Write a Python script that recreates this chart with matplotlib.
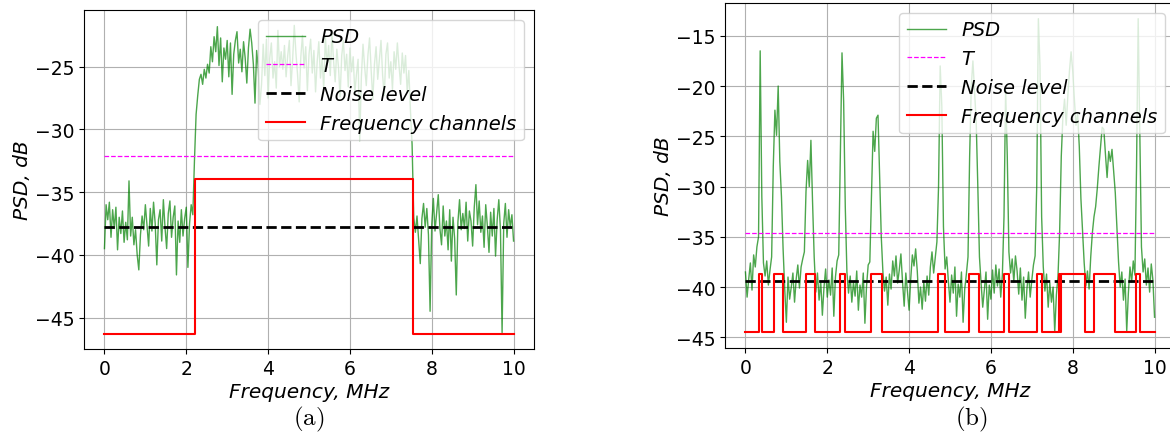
import numpy as np
import matplotlib
matplotlib.use("Agg")
import matplotlib.pyplot as plt

plt.rcParams['mathtext.fontset'] = 'cm'

# ---------------- data: panel (a) ----------------
psd_a = [
    -39.5, -36.0, -37.2, -35.8, -38.6, -36.4, -37.9, -36.2, -39.6, -37.0,
    -38.3, -36.5, -39.0, -37.4, -38.8, -34.1, -38.5, -37.0, -39.2, -38.0,
    -40.0, -41.2, -38.4, -36.9, -38.0, -36.0, -37.6, -39.3, -36.3, -38.1,
    -35.8, -37.5, -40.8, -37.2, -36.4, -38.9, -35.6, -37.8, -39.5, -36.7,
    -35.7, -38.6, -37.0, -36.1, -41.6, -37.3, -39.0, -36.4, -38.5, -37.1,
    -36.2, -41.0, -37.5, -36.0, -36.8,
    -32.5, -28.8, -27.3, -26.0,
    -25.6, -26.4, -25.2, -25.9, -24.8, -25.5, -23.4, -24.6, -22.6, -23.8,
    -21.8, -24.9, -22.7, -26.2, -23.5, -24.4, -22.9, -25.8, -23.1, -27.2,
    -24.0, -22.9, -22.2, -24.7, -23.6, -25.4, -23.0, -24.3, -26.3, -23.5,
    -22.0, -23.1, -24.8, -27.9, -23.7, -25.1, -28.0, -26.4, -23.2, -25.7,
    -22.8, -27.5, -24.3, -23.1, -25.9, -24.6, -26.7, -22.1, -25.0, -23.8,
    -25.2, -23.3, -25.8, -24.1, -22.9, -26.5, -24.4, -21.7, -23.9, -25.6,
    -27.8, -24.2, -22.5, -25.1, -23.4, -26.9, -24.0, -22.8, -25.5, -23.7,
    -27.0, -24.6, -23.0, -25.9, -24.3, -26.8, -22.6, -24.9, -23.3, -25.7,
    -22.3, -24.5, -26.2, -23.6, -25.0, -27.4, -24.1, -22.9, -25.3, -24.0,
    -26.6, -23.5, -25.4, -24.2, -27.1, -25.6, -24.4, -30.9, -25.8, -23.2,
    -25.0, -26.5, -24.1, -22.7, -25.3, -27.6, -24.8, -23.4, -26.0, -24.5,
    -22.9, -25.7, -27.3, -24.0, -23.1, -25.9, -24.6, -26.8, -23.8, -25.2,
    -23.1, -24.9, -26.4, -23.9, -25.5, -24.1, -27.0, -25.3, -28.5,
    -31.2, -37.0,
    -38.2, -36.9, -38.8, -40.7, -37.1, -35.9, -37.8, -36.3, -38.4, -44.5,
    -37.6, -35.5, -38.1, -36.6, -35.2, -37.9, -39.2, -36.1, -38.5, -37.3,
    -39.6, -36.4, -40.5, -37.0, -38.7, -43.2, -37.4, -35.6, -38.0, -36.7,
    -37.9, -35.8, -38.9, -36.5, -37.3, -39.3, -36.2, -34.4, -37.6, -35.7,
    -38.2, -36.9, -39.4, -36.0, -37.7, -39.8, -36.6, -38.5, -36.3, -40.1,
    -37.2, -35.6, -38.0, -46.2, -37.5, -35.9, -38.6, -36.4, -37.8, -36.8,
    -38.9,
]
threshold_a = -32.12
noise_a = -37.74
chan_edges_a = [(2.22, 7.54)]
chan_low_a, chan_high_a = -46.28, -33.94

# ---------------- data: panel (b) ----------------
psd_b = [
    -38.5, -41.0, -39.2, -37.6, -40.3, -36.8, -38.0, -36.0, -35.0, -16.5,
    -31.0, -37.6, -38.9, -37.4, -39.8, -38.3, -37.0, -28.0, -22.4, -24.9,
    -20.0, -27.5, -31.0, -36.2, -40.2, -43.5, -39.0, -41.2, -40.0, -38.6,
    -41.5, -39.2, -37.8, -40.1, -38.0, -37.2, -36.5, -30.5, -27.4, -30.0,
    -25.4, -31.5, -37.0, -40.5, -38.6, -41.3, -39.4, -42.8, -40.0, -38.2,
    -41.0, -39.3, -40.8, -38.1, -42.9, -39.0, -37.4, -36.8, -27.0, -16.7,
    -21.5, -32.0, -38.5, -40.6, -38.9, -41.5, -39.5, -40.9, -38.4, -42.3,
    -39.8, -41.0, -38.6, -43.6, -39.9, -37.8, -37.5, -31.0, -24.5, -26.5,
    -23.2, -22.9, -29.0, -35.0, -38.5, -40.4, -39.0, -41.8, -38.7, -40.2,
    -37.4, -38.9, -36.9, -39.6, -38.3, -36.7, -39.5, -41.9, -38.6, -40.5,
    -42.3, -39.2, -36.8, -37.9, -36.2, -38.4, -41.6, -40.0, -42.2, -39.5,
    -41.4, -38.9, -40.8, -38.0, -36.5, -38.6, -37.0, -35.5, -30.0, -18.0,
    -22.0, -34.0, -38.2, -37.0, -39.4, -41.5, -38.8, -40.6, -38.0, -42.9,
    -39.7, -41.0, -38.5, -43.5, -40.2, -38.7, -37.0, -27.0, -20.0, -17.5,
    -20.5, -23.5, -30.0, -37.0, -39.6, -42.0, -40.3, -38.5, -43.2, -39.8,
    -41.2, -38.3, -40.6, -37.8, -39.9, -38.2, -41.0, -38.8, -33.0, -20.3,
    -27.0, -36.5, -38.6, -37.2, -39.5, -36.9, -38.4, -40.7, -38.1, -41.3,
    -39.0, -43.1, -40.2, -38.5, -41.0, -39.3, -37.8, -36.9, -30.0, -13.3,
    -18.0, -33.0, -38.0, -40.4, -38.7, -42.0, -39.6, -41.5, -40.0, -44.5,
    -40.8, -38.9, -34.5, -27.0, -23.0, -21.3, -23.9, -21.0, -18.5, -16.6,
    -18.5, -21.3, -23.9, -22.8, -26.0, -31.2, -34.5, -37.6, -39.9, -38.4,
    -40.2, -37.0, -34.6, -33.0, -32.0, -30.2, -28.0, -26.0, -24.1, -24.3,
    -26.8, -29.1, -26.5, -27.5, -26.3, -28.5, -30.6, -34.0, -37.5, -40.0,
    -38.5, -41.3, -39.2, -44.4, -40.6, -38.0, -39.5, -37.4, -38.8, -28.0,
    -13.3, -25.0, -36.0, -38.5, -37.2, -39.8, -38.1, -40.5, -37.7, -39.3,
    -43.0,
]
threshold_b = -34.63
noise_b = -39.37
chan_edges_b = [(0.33, 0.41), (0.69, 0.91), (1.49, 1.71), (2.31, 2.43),
                (3.06, 3.33), (4.71, 4.88), (5.46, 5.71), (6.33, 6.45),
                (7.12, 7.25), (7.66, 7.68), (7.71, 8.29), (8.53, 9.03),
                (9.55, 9.64)]
chan_low_b, chan_high_b = -44.43, -38.70

f_min, f_max = 0.0, 10.0


def channel_line(edges, low, high):
    xs, ys = [f_min], [low]
    for a, b in edges:
        xs += [a, a, b, b]
        ys += [low, high, high, low]
    xs.append(f_max)
    ys.append(low)
    return xs, ys


def draw(ax, psd, thr, noise, edges, low, high):
    f = np.linspace(f_min, f_max, len(psd))
    ax.plot(f, psd, color='green', alpha=0.7, lw=1.0, label='PSD')
    ax.plot([f_min, f_max], [thr, thr], color='magenta', ls='--', lw=0.9, label='T')
    ax.plot([f_min, f_max], [noise, noise], color='black', ls='--', lw=2.0,
            label='Noise level')
    cx, cy = channel_line(edges, low, high)
    ax.plot(cx, cy, color='red', lw=1.5, label='Frequency channels')
    ax.grid(True, color='#b0b0b0', lw=0.8)
    ax.set_xticks([0, 2, 4, 6, 8, 10])
    ax.tick_params(labelsize=13.5)
    ax.set_xlabel('Frequency, MHz', fontsize=14.5, style='italic', labelpad=3)
    ax.set_ylabel('PSD, dB', fontsize=14.5, style='italic', labelpad=2)
    ax.legend(loc='upper right', prop={'size': 14, 'style': 'italic'})


fig = plt.figure(figsize=(11.70, 4.39), dpi=100)
ax1 = fig.add_axes([84 / 1170, 89 / 439, 450 / 1170, 339 / 439])
ax2 = fig.add_axes([725 / 1170, 90 / 439, 450 / 1170, 345 / 439])

draw(ax1, psd_a, threshold_a, noise_a, chan_edges_a, chan_low_a, chan_high_a)
draw(ax2, psd_b, threshold_b, noise_b, chan_edges_b, chan_low_b, chan_high_b)
ax1.set_yticks([-45, -40, -35, -30, -25])
ax2.set_yticks([-45, -40, -35, -30, -25, -20, -15])

fig.text(309 / 1170, 1 - 419 / 439, r'$\mathrm{(a)}$', fontsize=18, ha='center', va='center')
fig.text(971 / 1170, 1 - 419 / 439, r'$\mathrm{(b)}$', fontsize=18, ha='center', va='center')

fig.savefig('out.png', dpi=100)
